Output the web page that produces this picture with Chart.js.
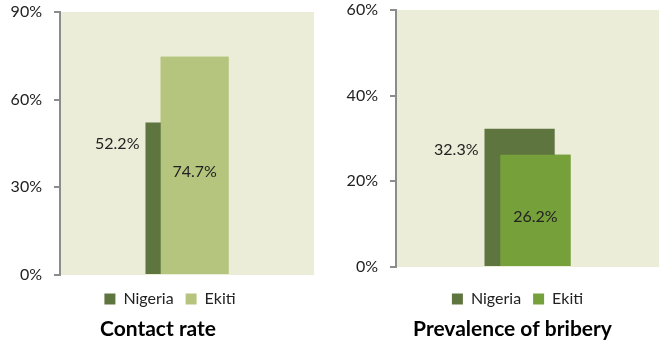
<!DOCTYPE html>
<html>
<head>
<meta charset="utf-8">
<script src="https://cdn.jsdelivr.net/npm/chart.js@4.4.1/dist/chart.umd.min.js"></script>
<style>
  body { margin: 0; background: #fff; overflow: hidden; }
  #wrap { display: flex; width: 659px; height: 345px; }
  .box { position: relative; height: 345px; }
  #leftBox { width: 330px; }
  #rightBox { width: 329px; }
</style>
</head>
<body>
<div id="wrap">
  <div class="box" id="leftBox"><canvas id="contactChart"></canvas></div>
  <div class="box" id="rightBox"><canvas id="briberyChart"></canvas></div>
</div>
<script>
// data
const seriesNames = ["Nigeria", "Ekiti"];
const contactValues = [52.2, 74.7];
const briberyValues = [32.3, 26.2];
const contactTicks = [0, 30, 60, 90];
const briberyTicks = [0, 20, 40, 60];

const nigeriaColor = "#5f7540";
const fontFamily = "Lato, 'Open Sans', sans-serif";

// plot background
const plotBg = {
    id: "plotBg",
    beforeDraw: (chart) => {
        const a = chart.chartArea;
        const ctx = chart.ctx;
        ctx.save();
        ctx.fillStyle = "#ebedd8";
        ctx.fillRect(a.left, a.top, a.right - a.left, a.bottom - a.top);
        ctx.restore();
    }
};

// legend and title are not centred on the canvas in the original
const boxShift = {
    id: "boxShift",
    afterLayout: (chart, args, opts) => {
        chart.legend.left += opts.legendDx;
        chart.legend.right += opts.legendDx;
        chart.titleBlock.left += opts.titleDx;
        chart.titleBlock.right += opts.titleDx;
    }
};

// Ekiti goes in front of Nigeria, then the value labels
const barLabels = {
    id: "barLabels",
    afterDatasetsDraw: (chart) => {
        const ctx = chart.ctx;
        chart.getDatasetMeta(1).data.forEach(el => el.draw(ctx));
        ctx.save();
        ctx.font = "16px " + fontFamily;
        ctx.fillStyle = "#222";
        ctx.textBaseline = "middle";
        chart.data.datasets.forEach((ds, i) => {
            const el = chart.getDatasetMeta(i).data[0];
            const txt = ds.data[0].toFixed(1) + "%";
            if (i == 0) {
                ctx.textAlign = "right";
                ctx.fillText(txt, el.x - el.width / 2 - 6, el.y + 21);
            } else {
                ctx.textAlign = "center";
                ctx.fillText(txt, el.x, (el.y + el.base) / 2 + 6);
            }
        });
        ctx.restore();
    }
};

const makeChart = (id, values, ticks, ekitiColor, title, axisWidth, gap, pad, shift) => {
    const step = ticks[1] - ticks[0];
    new Chart(document.getElementById(id), {
        type: "bar",
        data: {
            labels: [""],
            datasets: [
                { label: seriesNames[0], data: [values[0]], backgroundColor: nigeriaColor },
                { label: seriesNames[1], data: [values[1]], backgroundColor: ekitiColor }
            ]
        },
        options: {
            responsive: true,
            maintainAspectRatio: false,
            animation: false,
            datasets: { bar: { categoryPercentage: 0.12, barPercentage: 4.45, inflateAmount: 0 } },
            layout: { padding: pad },
            scales: {
                x: {
                    ticks: { display: false },
                    grid: { display: false },
                    border: { display: false },
                    afterFit: (scale) => { scale.height = gap; }
                },
                y: {
                    min: ticks[0],
                    max: ticks[ticks.length - 1],
                    ticks: {
                        stepSize: step,
                        padding: 12,
                        color: "#222",
                        font: { family: fontFamily, size: 16 },
                        callback: (v) => v + "%"
                    },
                    grid: { drawOnChartArea: false, drawTicks: true, tickLength: 6, color: "#8c8c8c", lineWidth: 2 },
                    border: { display: true, color: "#8c8c8c", width: 2 },
                    afterFit: (scale) => {
                        scale.width = axisWidth;
                        scale.paddingTop = 0;
                        scale.paddingBottom = 0;
                    }
                }
            },
            plugins: {
                legend: {
                    position: "bottom",
                    labels: {
                        boxWidth: 11,
                        boxHeight: 11,
                        padding: 12,
                        color: "#222",
                        font: { family: fontFamily, size: 16 }
                    }
                },
                title: {
                    display: true,
                    text: title,
                    position: "bottom",
                    color: "#000",
                    // 21 * 1.2 + 2.8 keeps the plot bottom on a whole pixel
                    padding: { top: 0, bottom: 2.8 },
                    font: { family: fontFamily, size: 21, weight: "bold" }
                },
                boxShift: shift,
                tooltip: { enabled: false }
            }
        },
        plugins: [plotBg, boxShift, barLabels]
    });
};

makeChart("contactChart", contactValues, contactTicks, "#b5c57e", "Contact rate", 60, 4,
    { left: 0, right: 16, top: 12, bottom: 0 }, { legendDx: 13, titleDx: 1 });
makeChart("briberyChart", briberyValues, briberyTicks, "#76a03a", "Prevalence of bribery", 66, 12,
    { left: 0, right: 0, top: 10, bottom: 0 }, { legendDx: 23, titleDx: 18 });
</script>
</body>
</html>
